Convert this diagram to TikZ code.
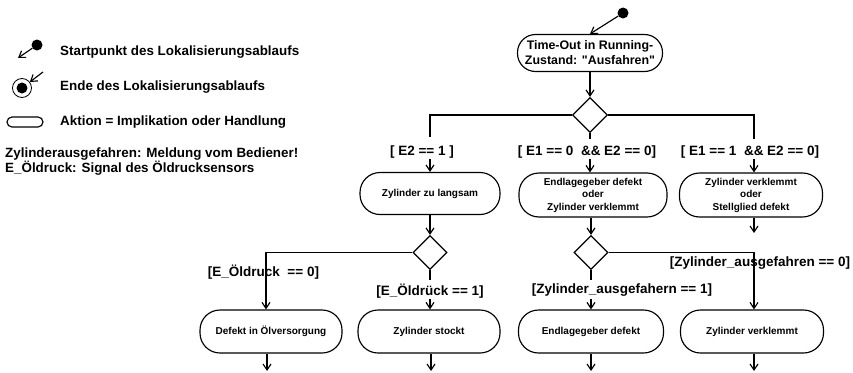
\documentclass[tikz,border=0pt]{standalone}
\usepackage{fontspec}
\setmainfont{Liberation Sans}
\usetikzlibrary{arrows.meta,shapes.geometric}
\begin{document}
\begin{tikzpicture}[x=1pt,y=-1pt,
  flow/.style={line width=1.15pt},
  arr/.style={flow,-{Straight Barb[length=6pt,width=8pt]}},
  action/.style={draw,line width=1.15pt,rounded corners=20pt,align=center,
    font=\bfseries\fontsize{10}{12.5}\selectfont,inner sep=0pt},
  decision/.style={draw,diamond,line width=1.15pt,minimum width=35pt,
    minimum height=35pt,inner sep=0pt},
  guard/.style={font=\bfseries\fontsize{13.5}{15}\selectfont,inner sep=0pt},
  legend/.style={font=\bfseries\fontsize{13.4}{13.6}\selectfont,anchor=west,
    inner sep=0pt,align=left},
  startdot/.style={circle,fill=black,minimum size=11pt,inner sep=0pt},
]
\useasboundingbox (0,0) rectangle (853,372);

% ---------- legend ----------
\node[startdot] (ls) at (37,45) {};
\coordinate (lsa) at (18,58);
\draw[arr] (ls) -- (lsa);
\node[legend] (lt1) at (60,52) {Startpunkt des Lokalisierungsablaufs};

\node[circle,draw,line width=0.8pt,minimum size=19pt,inner sep=0pt] (le) at (22,88) {};
\node[startdot] (lei) at (le) {};
\coordinate (lea) at (43,72);
\draw[arr] (lea) -- (le);
\node[legend] (lt2) at (60,87) {Ende des Lokalisierungsablaufs};

\node[draw,line width=1.15pt,rounded corners=5pt,minimum width=36pt,
  minimum height=10pt,inner sep=0pt] (la) at (25,122) {};
\node[legend] (lt3) at (60,122) {Aktion = Implikation oder Handlung};

\node[legend] (lt4) at (5,161.5) {Zylinderausgefahren: Meldung vom Bediener!\\
  E\_Öldruck: Signal des Öldrucksensors};

% ---------- start and first action ----------
\node[startdot] (s0) at (623,13) {};
\node[action,minimum width=145pt,minimum height=37pt,rounded corners=18pt,
  font=\bfseries\fontsize{12.4}{15}\selectfont] (t0) at (590,53)
  {Time-Out in Running-\\Zustand: \textquotedbl Ausfahren\textquotedbl};
\draw[arr] (s0) -- (t0.north);

% ---------- first decision ----------
\node[decision] (d1) at (590,115) {};
\draw[arr] (t0) -- (d1);

\node[guard] (g1) at (422,152) {[ E2 == 1 ]};
\node[guard] (g2) at (587,152) {[ E1 == 0\ \ \&\& E2 == 0]};
\node[guard] (g3) at (750,152) {[ E1 == 1\ \ \&\& E2 == 0]};

\node[action,minimum width=140pt,minimum height=42pt] (a1) at (430,193.5)
  {Zylinder zu langsam};
\node[action,minimum width=148pt,minimum height=44pt] (a2) at (593,195)
  {Endlagegeber defekt\\oder\\Zylinder verklemmt};
\node[action,minimum width=143pt,minimum height=44pt] (a3) at (751,195)
  {Zylinder verklemmt\\oder\\Stellglied defekt};

\coordinate (c1a) at (430,137);
\coordinate (c1b) at (430,159);
\draw[flow] (d1.west) -| (c1a);
\draw[arr] (c1b) -- (c1b |- a1.north);

\coordinate (c2a) at (590,139);
\coordinate (c2b) at (590,159);
\draw[flow] (d1.south) -- (c2a);
\draw[arr] (c2b) -- (c2b |- a2.north);

\coordinate (c3a) at (754,139);
\coordinate (c3b) at (754,159);
\draw[flow] (d1.east) -| (c3a);
\draw[arr] (c3b) -- (c3b |- a3.north);

% ---------- second level decisions ----------
\node[decision,minimum width=34pt,minimum height=34pt] (d2) at (430,252.5) {};
\node[decision,minimum width=34pt,minimum height=34pt] (d3) at (591,252.5) {};
\draw[arr] (a1.south) -- (d2.north);
\draw[arr] (d3.north |- a2.south) -- (d3.north);
\coordinate (e3) at (754,233);
\draw[arr] (e3 |- a3.south) -- (e3);

\node[guard] (h1) at (263.5,272) {[E\_Öldruck\ \ == 0]};
\node[guard] (h2) at (430,291) {[E\_Öldrück == 1]};
\node[guard] (h3) at (622,290) {[Zylinder\_ausgefahern == 1]};
\node[guard] (h4) at (760,263) {[Zylinder\_ausgefahren == 0]};

\node[action,minimum width=142pt,minimum height=43pt] (b1) at (271,331.5)
  {Defekt in Ölversorgung};
\node[action,minimum width=142pt,minimum height=43pt] (b2) at (429,331.5)
  {Zylinder stockt};
\node[action,minimum width=145pt,minimum height=43pt] (b3) at (591,331.5)
  {Endlagegeber defekt};
\node[action,minimum width=143pt,minimum height=43pt] (b4) at (752,331.5)
  {Zylinder verklemmt};

\coordinate (k1) at (266,252.5);
\draw[arr] (d2.west) -- (k1) -- (k1 |- b1.north);

\coordinate (k2a) at (430,280);
\coordinate (k2b) at (430,299);
\draw[flow] (d2.south) -- (k2a);
\draw[arr] (k2b) -- (k2b |- b2.north);

\coordinate (k3a) at (591,280);
\coordinate (k3b) at (591,299);
\draw[flow] (d3.south) -- (k3a);
\draw[arr] (k3b) -- (k3b |- b3.north);

\coordinate (k4) at (754,252.5);
\draw[arr] (d3.east) -- (k4) -- (k4 |- b4.north);

% ---------- outgoing flows ----------
\coordinate (z1) at (267,371);
\coordinate (z2) at (431,371);
\coordinate (z3) at (591,371);
\coordinate (z4) at (754,371);
\draw[arr] (z1 |- b1.south) -- (z1);
\draw[arr] (z2 |- b2.south) -- (z2);
\draw[arr] (z3 |- b3.south) -- (z3);
\draw[arr] (z4 |- b4.south) -- (z4);

\end{tikzpicture}
\end{document}
